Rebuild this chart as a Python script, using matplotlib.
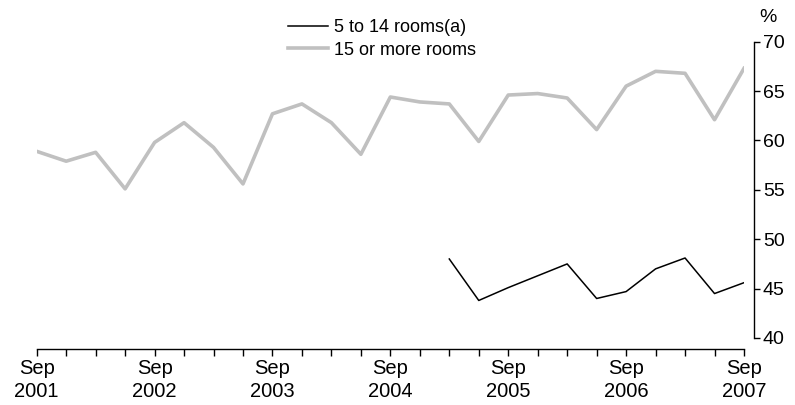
import numpy as np
import matplotlib
matplotlib.use("Agg")
import matplotlib.pyplot as plt

plt.rcParams['font.family'] = ['Liberation Sans', 'DejaVu Sans']

# Quarterly, Sep 2001 to Sep 2007
years = ['2001', '2002', '2003', '2004', '2005', '2006', '2007']
small_rooms = [None] * 14 + [48.0, 43.8, 45.1, 46.3, 47.5, 44.0, 44.7,
                             47.0, 48.1, 44.5, 45.6]
large_rooms = [58.9, 57.9, 58.8, 55.1, 59.8, 61.8, 59.3, 55.6, 62.7,
               63.7, 61.8, 58.6, 64.4, 63.9, 63.7, 59.9, 64.6, 64.75,
               64.3, 61.1, 65.5, 67.0, 66.8, 62.1, 67.3]

x = np.arange(len(large_rooms))
small = np.array([np.nan if v is None else v for v in small_rooms])

fig = plt.figure(figsize=(7.95, 4.05), dpi=100)
ax = fig.add_axes([36.7 / 795, 1 - 338 / 405, (744 - 36.7) / 795, (338 - 41.7) / 405])

ax.plot(x, small, color='black', linewidth=1.1, label='5 to 14 rooms(a)')
ax.plot(x, large_rooms, color='#c0c0c0', linewidth=2.6, label='15 or more rooms')

ax.set_xlim(0, 24)
ax.set_ylim(40, 70)

# axes styling
ax.spines['top'].set_visible(False)
ax.spines['left'].set_visible(False)
ax.spines['right'].set_position(('outward', 7.5))
ax.spines['bottom'].set_position(('outward', 8))
for s in ('right', 'bottom'):
    ax.spines[s].set_linewidth(1.0)

ax.yaxis.tick_right()
ax.set_yticks(np.arange(40, 71, 5))
ax.tick_params(axis='y', length=4, width=1.0, labelsize=14, pad=2)

ax.set_xticks(x)
ax.set_xticklabels(['Sep\n' + years[i // 4] if i % 4 == 0 else '' for i in x])
ax.tick_params(axis='x', length=5, width=1.0, labelsize=14.5, pad=2)
for lbl in ax.get_xticklabels():
    lbl.set_linespacing(1.25)

fig.text(768 / 795, 1 - 18 / 405, '%', ha='center', va='center', fontsize=14)

ax.legend(loc='center', bbox_to_anchor=(382 / 795, 1 - 39 / 405),
          bbox_transform=fig.transFigure, frameon=False, fontsize=13,
          handlelength=2.2, handletextpad=0.3, labelspacing=0.3)

fig.savefig('out.png', dpi=100)
